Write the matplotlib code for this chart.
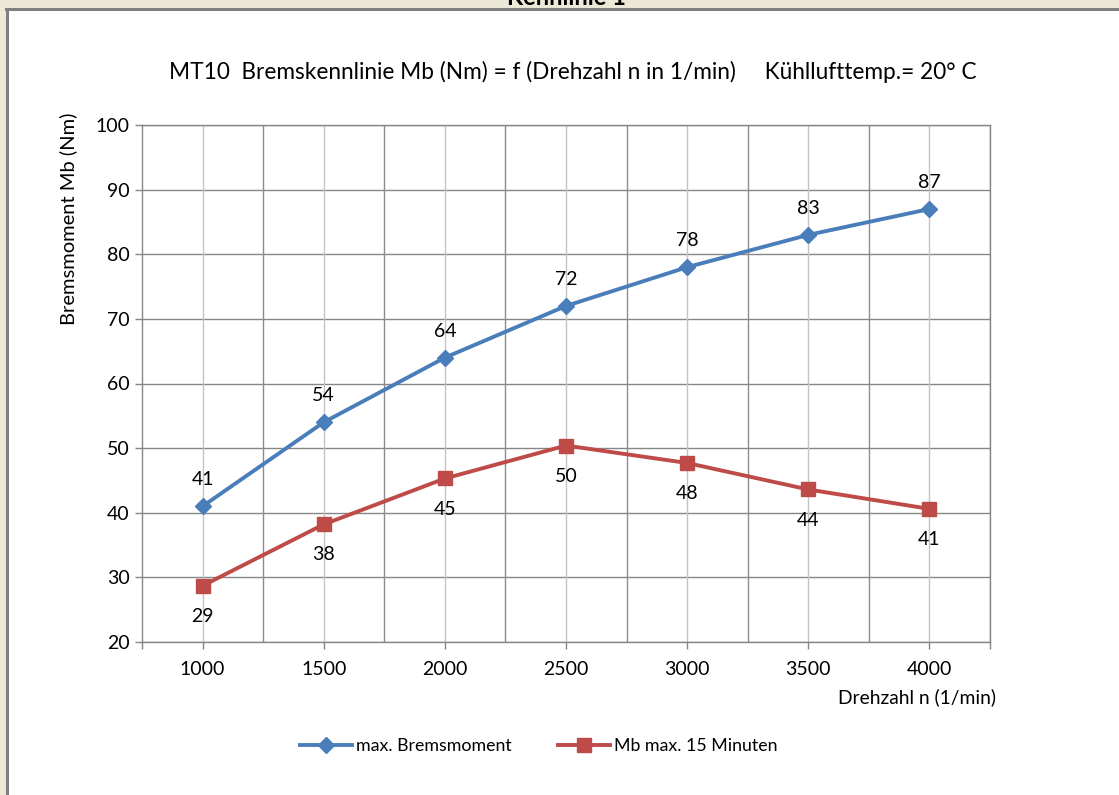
import matplotlib.pyplot as plt
from matplotlib.patches import Rectangle
from matplotlib.lines import Line2D

plt.rcParams['font.family'] = ['Lato', 'DejaVu Sans']

# data
drehzahl = [1000, 1500, 2000, 2500, 3000, 3500, 4000]
mb_max = [41, 54, 64, 72, 78, 83, 87]
mb_15min = [28.7, 38.2, 45.3, 50.4, 47.7, 43.6, 40.6]
y_ticks = [20, 30, 40, 50, 60, 70, 80, 90, 100]

W, H = 1119, 795
fig = plt.figure(figsize=(W / 100, H / 100), dpi=100)

# window frame (beige strips + gray border)
fig.patches.append(Rectangle((0, 1 - 8 / H), 1, 8 / H, transform=fig.transFigure,
                             facecolor='#ECE9D8', edgecolor='none', zorder=0))
fig.patches.append(Rectangle((0, 0), 6 / W, 1, transform=fig.transFigure,
                             facecolor='#ECE9D8', edgecolor='none', zorder=0))
fig.lines.append(Line2D([6 / W, 1], [1 - 9 / H, 1 - 9 / H], transform=fig.transFigure,
                        color='#808080', lw=2.2))
fig.lines.append(Line2D([7 / W, 7 / W], [0, 1 - 9 / H], transform=fig.transFigure,
                        color='#808080', lw=2.2))
fig.text(566 / W, 1 - 5 / H, 'Kennlinie 1', ha='center', va='baseline',
         fontsize=17, fontweight='bold', color='black')

ax = fig.add_axes([142 / W, (H - 642) / H, (990 - 142) / W, (642 - 125) / H])
ax.set_xlim(750, 4250)
ax.set_ylim(20, 100)

# gridlines
for yv in y_ticks:
    ax.axhline(yv, color='#868686', lw=1.0, zorder=1)
for xv in drehzahl:
    ax.axvline(xv, color='#C4C4C4', lw=1.0, zorder=1)
for xv in range(1250, 4251, 500):
    ax.axvline(xv, color='#8C8C8C', lw=1.0, zorder=1)

for s in ax.spines.values():
    s.set_color('#868686')
    s.set_linewidth(1.0)

ax.set_yticks(y_ticks)
ax.set_xticks(drehzahl + [750, 4250])
ax.set_xticklabels([str(v) for v in drehzahl] + ['', ''])
ax.tick_params(axis='both', colors='#868686', labelcolor='black', labelsize=14,
               length=5, width=1.0)
ax.tick_params(axis='x', pad=9)
ax.tick_params(axis='y', pad=4)

ax.plot(drehzahl, mb_max, color='#4A7EBB', lw=2.8, marker='D', markersize=8.5,
        label='max. Bremsmoment', zorder=3)
ax.plot(drehzahl, mb_15min, color='#BE4B48', lw=2.8, marker='s', markersize=10,
        label='Mb max. 15 Minuten', zorder=3)

for xv, yv in zip(drehzahl, mb_max):
    ax.annotate(f'{yv:.0f}', (xv, yv), xytext=(0, 19), textcoords='offset points',
                ha='center', va='center', fontsize=14)
for xv, yv in zip(drehzahl, mb_15min):
    ax.annotate(f'{yv:.0f}', (xv, yv), xytext=(0, -22), textcoords='offset points',
                ha='center', va='center', fontsize=14)

fig.text(573 / W, 1 - 72 / H,
         'MT10  Bremskennlinie Mb (Nm) = f (Drehzahl n in 1/min)     Kühllufttemp.= 20° C',
         ha='center', va='center', fontsize=16.3)
fig.text(68 / W, 1 - 219 / H, 'Bremsmoment Mb (Nm)', rotation=90,
         ha='center', va='center', fontsize=14.5)
fig.text(996 / W, 1 - 697 / H, 'Drehzahl n (1/min)', ha='right', va='center',
         fontsize=13.9)

handles, labels = ax.get_legend_handles_labels()
fig.legend(handles, labels, loc='center', bbox_to_anchor=(539 / W, 1 - 746 / H),
           ncol=2, frameon=False, fontsize=12.8, handlelength=2.9,
           columnspacing=2.6, handletextpad=0.25)

fig.savefig('out.png', dpi=100)
